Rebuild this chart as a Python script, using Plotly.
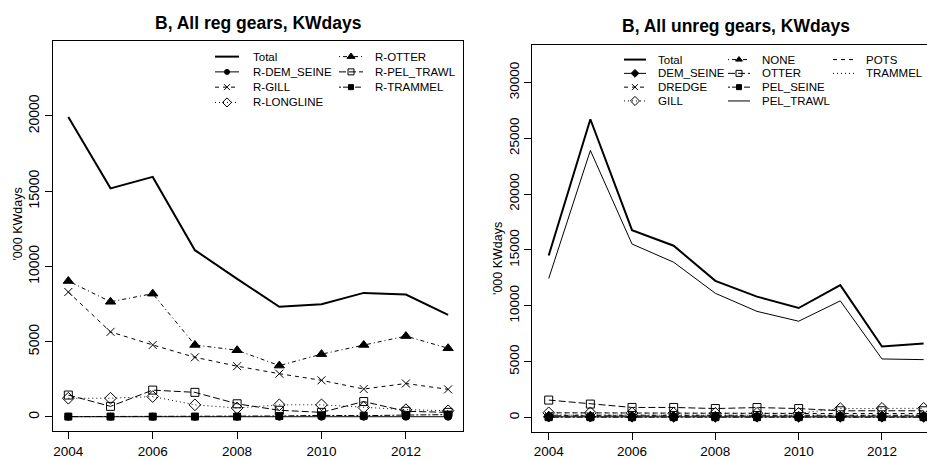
import plotly.graph_objects as go

# ---------------- data ('000 KWdays) ----------------
years = [2004, 2005, 2006, 2007, 2008, 2009, 2010, 2011, 2012, 2013]

# regulated gears
reg_total = [19930, 15190, 15950, 11080, 9170, 7320, 7480, 8240, 8130, 6780]
reg_dem_seine = [10, 10, 10, 10, 10, 10, 10, 10, 10, 10]
reg_gill = [8300, 5650, 4780, 3960, 3370, 2870, 2430, 1850, 2220, 1830]
reg_longline = [1240, 1240, 1350, 800, 590, 800, 800, 630, 480, 410]
reg_otter = [9030, 7650, 8190, 4780, 4430, 3410, 4170, 4780, 5370, 4560]
reg_pel_trawl = [1450, 700, 1780, 1630, 870, 440, 300, 1020, 370, 300]
reg_trammel = [20, 20, 20, 20, 20, 60, 100, 80, 120, 150]

# unregulated gears
unreg_total = [14500, 26700, 16770, 15380, 12230, 10820, 9800, 11850, 6360, 6620]
unreg_dem_seine = [60, 60, 50, 50, 50, 50, 50, 50, 50, 50]
unreg_dredge = [150, 150, 140, 140, 130, 130, 130, 120, 120, 120]
unreg_gill = [420, 420, 400, 380, 380, 380, 380, 800, 820, 820]
unreg_none = [200, 200, 190, 190, 180, 180, 180, 200, 200, 200]
unreg_otter = [1560, 1200, 900, 900, 800, 890, 800, 600, 600, 600]
unreg_pel_seine = [30, 30, 30, 30, 30, 30, 30, 30, 30, 30]
unreg_pel_trawl = [12440, 23910, 15530, 13900, 11120, 9500, 8620, 10440, 5240, 5180]
unreg_pots = [420, 400, 400, 390, 380, 380, 360, 360, 350, 350]
unreg_trammel = [220, 210, 210, 200, 200, 200, 190, 190, 190, 190]

x_ticks = [2004, 2006, 2008, 2010, 2012]
reg_y_ticks = [0, 5000, 10000, 15000, 20000]
unreg_y_ticks = [0, 5000, 10000, 15000, 20000, 25000, 30000]

# ---------------- styles ----------------
W, H = 927, 459
FONT = "Liberation Sans, Arial, sans-serif"
SOLID, DASHED, DOTTED = "solid", "4px,4px", "1px,3px"
DOTDASH, LONGDASH, TWODASH = "1px,3px,4px,3px", "7px,3px", "2px,2px,6px,2px"

# name, values, dash, marker symbol, marker size, line width
reg_series = [
    ("Total", reg_total, SOLID, None, 0, 2),
    ("R-DEM_SEINE", reg_dem_seine, SOLID, "circle", 7, 1),
    ("R-GILL", reg_gill, DASHED, "x-thin-open", 8, 1),
    ("R-LONGLINE", reg_longline, DOTTED, "diamond-open", 9, 1),
    ("R-OTTER", reg_otter, DOTDASH, "triangle-up", 9, 1),
    ("R-PEL_TRAWL", reg_pel_trawl, LONGDASH, "square-open", 8, 1),
    ("R-TRAMMEL", reg_trammel, TWODASH, "square", 7, 1),
]
unreg_series = [
    ("Total", unreg_total, SOLID, None, 0, 2),
    ("DEM_SEINE", unreg_dem_seine, SOLID, "diamond", 8, 1),
    ("DREDGE", unreg_dredge, DASHED, "x-thin-open", 8, 1),
    ("GILL", unreg_gill, DOTTED, "diamond-open", 9, 1),
    ("NONE", unreg_none, DOTDASH, "triangle-up", 8, 1),
    ("OTTER", unreg_otter, LONGDASH, "square-open", 8, 1),
    ("PEL_SEINE", unreg_pel_seine, TWODASH, "square", 7, 1),
    ("PEL_TRAWL", unreg_pel_trawl, SOLID, None, 0, 1),
    ("POTS", unreg_pots, DASHED, None, 0, 1),
    ("TRAMMEL", unreg_trammel, DOTTED, None, 0, 1),
]


def px_x(v):
    return v / W


def px_y(v):
    return 1 - v / H


def marker_style(symbol, size):
    return dict(symbol=symbol or "circle", size=size, color="black",
                line=dict(color="black", width=1))


fig = go.Figure()

for series, xa, ya in ((reg_series, "x", "y"), (unreg_series, "x2", "y2")):
    for name, vals, dash, sym, msize, lw in series:
        fig.add_trace(go.Scatter(
            x=years, y=vals, name=name, xaxis=xa, yaxis=ya,
            mode="lines+markers" if sym else "lines",
            line=dict(color="black", width=lw, dash=dash),
            marker=marker_style(sym, msize),
            showlegend=False, hoverinfo="x+y+name",
        ))

# ---------------- legend keys (pixel overlay axis) ----------------
# column layout: (series slice, key x0, key x1, text x, first row y, row step)
legend_cols = [
    (reg_series[0:4], 215, 239, 251, 57.5, 15.5),
    (reg_series[4:7], 339, 363, 373, 57.5, 15.5),
    (unreg_series[0:4], 624, 646, 656, 60.5, 14),
    (unreg_series[4:8], 728, 750, 760, 60.5, 14),
    (unreg_series[8:10], 833, 855, 864, 60.5, 14),
]
annotations = []
for entries, kx0, kx1, tx, y0, dy in legend_cols:
    for i, (name, _vals, dash, sym, msize, lw) in enumerate(entries):
        yy = y0 + i * dy
        fig.add_trace(go.Scatter(
            x=[kx0, (kx0 + kx1) / 2, kx1], y=[yy, yy, yy],
            xaxis="x3", yaxis="y3",
            mode="lines+markers" if sym else "lines",
            line=dict(color="black", width=lw, dash=dash),
            marker=dict(marker_style(sym, max(msize - 2, 0)), opacity=[0, 1, 0]),
            showlegend=False, hoverinfo="skip",
        ))
        annotations.append(dict(
            x=px_x(tx), y=px_y(yy), xref="paper", yref="paper",
            text=name, showarrow=False, xanchor="left", yanchor="middle",
            font=dict(family=FONT, size=11.5, color="black"),
        ))

# titles
for text, cx, cy in (("B, All reg gears, KWdays", 258, 23),
                     ("B, All unreg gears, KWdays", 736, 26)):
    annotations.append(dict(
        x=px_x(cx), y=px_y(cy), xref="paper", yref="paper", text=f"<b>{text}</b>",
        showarrow=False, xanchor="center", yanchor="middle",
        font=dict(family=FONT, size=17.5, color="black"),
    ))

# y axis titles
for cx, cy in ((18, 228), (498, 262)):
    annotations.append(dict(
        x=px_x(cx), y=px_y(cy), xref="paper", yref="paper", text="'000 KWdays",
        showarrow=False, xanchor="center", yanchor="middle", textangle=-90,
        font=dict(family=FONT, size=12.5, color="black"),
    ))

axis_common = dict(showgrid=False, zeroline=False, showline=True, linecolor="black",
                   linewidth=1, ticks="outside", ticklen=7, tickcolor="black",
                   tickwidth=1, fixedrange=True)

fig.update_layout(
    width=W, height=H, margin=dict(l=0, r=0, t=0, b=0),
    paper_bgcolor="white", plot_bgcolor="rgba(0,0,0,0)",
    font=dict(family=FONT, color="black"),
    annotations=annotations,
    xaxis=dict(axis_common, domain=[px_x(53), px_x(463)], range=[2003.637, 2013.353],
               tickvals=x_ticks, ticktext=[str(t) for t in x_ticks],
               mirror=True, anchor="y", tickfont=dict(size=13.5)),
    yaxis=dict(axis_common, domain=[px_y(438), px_y(42)], range=[-960, 24960],
               tickvals=reg_y_ticks, ticktext=[str(t) for t in reg_y_ticks],
               tickangle=-90, mirror=True, anchor="x", tickfont=dict(size=14)),
    xaxis2=dict(axis_common, domain=[px_x(532.3), 1], range=[2003.606, 2013.081],
                tickvals=x_ticks, ticktext=[str(t) for t in x_ticks],
                mirror=True, anchor="y2", tickfont=dict(size=13.5)),
    yaxis2=dict(axis_common, domain=[px_y(438.5), px_y(46)], range=[-1282, 33322],
                tickvals=unreg_y_ticks, ticktext=[str(t) for t in unreg_y_ticks],
                tickangle=-90, mirror=False, anchor="x2", tickfont=dict(size=13.5)),
    xaxis3=dict(domain=[0, 1], range=[0, W], visible=False, fixedrange=True, anchor="y3"),
    yaxis3=dict(domain=[0, 1], range=[H, 0], visible=False, fixedrange=True, anchor="x3"),
)

fig.write_html("out.html")
